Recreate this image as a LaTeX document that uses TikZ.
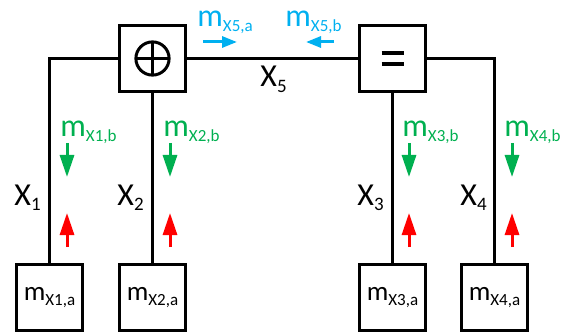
\documentclass[tikz,border=0pt]{standalone}
\usepackage{fontspec}
\setmainfont{Carlito}
\usetikzlibrary{arrows.meta, positioning}

\definecolor{msgblue}{RGB}{0,176,240}
\definecolor{msggreen}{RGB}{0,176,80}
\definecolor{msgred}{RGB}{255,0,0}

\newcommand{\subsz}{\fontsize{8.5}{10}\selectfont}
\newcommand{\msgtxt}[1]{m\raisebox{-2.3pt}{\subsz #1}}
\newcommand{\vartxt}[1]{X\raisebox{-2.8pt}{\fontsize{9.5}{11}\selectfont #1}}

\begin{document}
\begin{tikzpicture}[
            x=0.5pt, y=-0.5pt,
            node distance=85pt,
            box/.style={
                rectangle,
                draw,
                line width=1.5pt,
                minimum width=33pt,
                minimum height=33pt,
                inner sep=0pt,
                font=\fontsize{13.5}{15}\selectfont
            },
            wire/.style={line width=1.5pt},
            lab/.style={anchor=base west, inner sep=0pt, font=\fontsize{16}{18}\selectfont},
            arrow/.style={line width=1.5pt, -{Triangle[length=11pt, width=7pt]}},
            barrow/.style={line width=1.5pt, msgblue, -{Triangle[length=7.5pt, width=5.5pt]}}
        ]
        \useasboundingbox (0,0) rectangle (571,336);

        % Nodes
        \node[box] (sum) at (152.5,58.5) {};
        \node[box, right=85.5pt of sum] (eq) {};

        \node[box, below=of sum] (m2) {\msgtxt{X2,a}};
        \node[box, left=17pt of m2] (m1) {\msgtxt{X1,a}};
        \node[box, below=of eq] (m3) {\msgtxt{X3,a}};
        \node[box, right=16.5pt of m3] (m4) {\msgtxt{X4,a}};

        % Symbols in the boxes
        \draw[wire] (sum.center) circle (8.3pt);
        \draw[wire] ([xshift=-8.3pt]sum.center) -- ([xshift=8.3pt]sum.center);
        \draw[wire] ([yshift=-8.3pt]sum.center) -- ([yshift=8.3pt]sum.center);
        \draw[line width=2pt] ([xshift=-5.5pt, yshift=2.75pt]eq.center) -- ++(11pt,0);
        \draw[line width=2pt] ([xshift=-5.5pt, yshift=-2.75pt]eq.center) -- ++(11pt,0);

        % Edges
        \draw[wire] (m1.north) |- (sum.west);
        \draw[wire] (m2.north) -- (sum.south);
        \draw[wire] (sum.east) -- (eq.west);
        \draw[wire] (m3.north) -- (eq.south);
        \draw[wire] (m4.north) |- (eq.east);

        % Variable labels
        \node[lab] (x1) at (14,205) {\vartxt{1}};
        \node[lab] (x2) at (117,205) {\vartxt{2}};
        \node[lab] (x3) at (357,205) {\vartxt{3}};
        \node[lab] (x4) at (460,205) {\vartxt{4}};
        \node[lab] (x5) at (260,87) {\vartxt{5}};

        % Message labels
        \node[lab, msggreen] (mb1) at (60,137) {\msgtxt{X1,b}};
        \node[lab, msggreen] (mb2) at (163,137) {\msgtxt{X2,b}};
        \node[lab, msggreen] (mb3) at (402,137) {\msgtxt{X3,b}};
        \node[lab, msggreen] (mb4) at (504,137) {\msgtxt{X4,b}};
        \node[lab, msgblue] (ma5) at (197,27) {\msgtxt{X5,a}};
        \node[lab, msgblue] (mb5) at (285,27) {\msgtxt{X5,b}};

        % Message arrows
        \draw[barrow] (203,42) -- (237,42);
        \draw[barrow] (334,42) -- (306,42);

        \draw[arrow, msggreen] (67,143) -- (67,177);
        \draw[arrow, msggreen] (170,143) -- (170,177);
        \draw[arrow, msggreen] (409,143) -- (409,177);
        \draw[arrow, msggreen] (512,143) -- (512,177);

        \draw[arrow, msgred] (67,247) -- (67,213);
        \draw[arrow, msgred] (170,247) -- (170,213);
        \draw[arrow, msgred] (409,247) -- (409,213);
        \draw[arrow, msgred] (512,247) -- (512,213);

        \end{tikzpicture}
\end{document}
